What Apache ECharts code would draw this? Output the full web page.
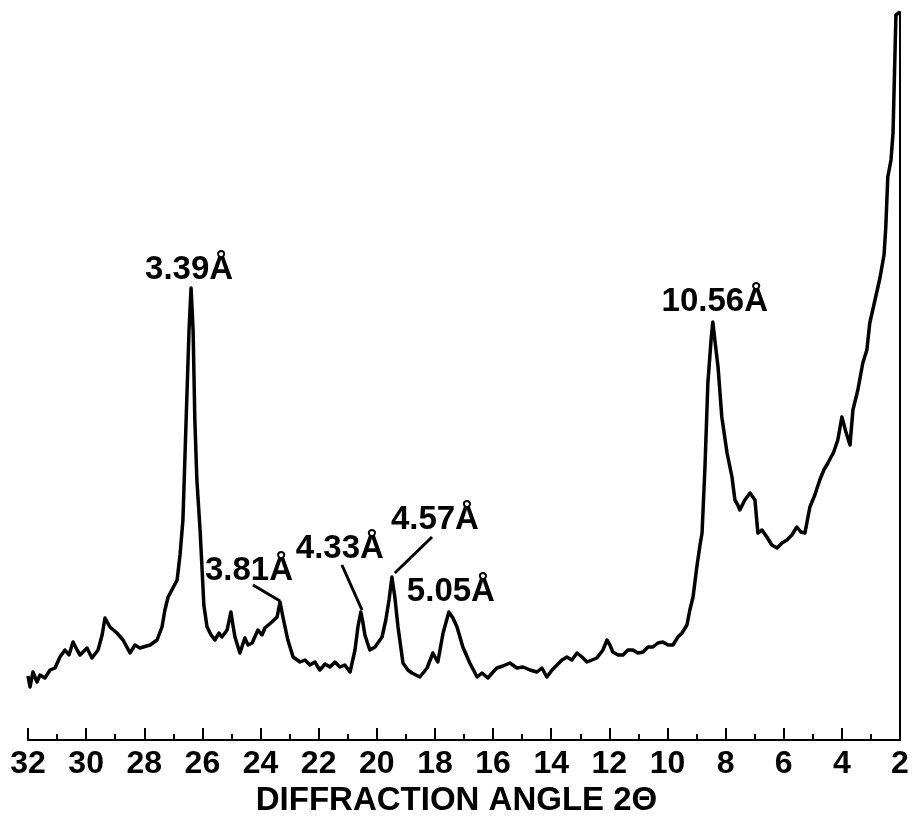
<!DOCTYPE html>
<html>
<head>
<meta charset="utf-8">
<script src="https://cdn.jsdelivr.net/npm/echarts@6/dist/echarts.min.js"></script>
<style>
html,body{margin:0;padding:0;background:#fff;}
#chart{width:913px;height:823px;}
</style>
</head>
<body>
<div id="chart"></div>
<script>
// Diffraction angle 2θ (degrees)
const twoTheta = [
32.00,31.93,31.83,31.69,31.59,31.42,31.24,31.07,30.90,30.73,
30.59,30.45,30.31,30.21,29.97,29.80,29.59,29.45,29.35,29.18,
28.94,28.73,28.49,28.32,28.15,27.80,27.56,27.39,27.29,27.18,
27.05,26.87,26.77,26.67,26.56,26.46,26.39,26.32,26.26,26.19,
26.08,26.01,25.95,25.84,25.70,25.57,25.43,25.33,25.15,25.02,
24.95,24.88,24.71,24.54,24.43,24.29,24.09,23.95,23.85,23.61,
23.43,23.33,23.23,23.06,22.88,22.64,22.47,22.30,22.13,21.96,
21.78,21.61,21.44,21.27,21.10,20.92,20.75,20.65,20.55,20.48,
20.41,20.24,20.06,19.82,19.69,19.58,19.48,19.38,19.27,19.10,
18.93,18.79,18.52,18.27,18.07,17.90,17.72,17.52,17.38,17.24,
17.04,16.80,16.55,16.38,16.18,16.00,15.87,15.66,15.42,15.18,
14.97,14.73,14.49,14.32,14.15,13.97,13.80,13.63,13.46,13.29,
13.11,12.94,12.77,12.60,12.43,12.22,12.08,11.98,11.88,11.70,
11.53,11.36,11.19,11.02,10.84,10.67,10.50,10.33,10.16,9.98,
9.81,9.64,9.50,9.33,9.23,9.12,8.99,8.88,8.81,8.71,
8.61,8.50,8.44,8.37,8.26,8.13,7.95,7.78,7.68,7.58,
7.51,7.34,7.16,6.99,6.89,6.75,6.58,6.41,6.23,6.06,
5.89,5.72,5.55,5.41,5.27,5.10,4.93,4.76,4.62,4.48,
4.28,4.14,4.00,3.86,3.72,3.62,3.45,3.28,3.14,3.04,
2.86,2.69,2.55,2.49,2.42,2.31,2.24,2.17,2.14,2.00
];
// Relative intensity (arbitrary units)
const intensity = [
64,53,68,58,65,62,70,72,83,90,
85,98,90,85,92,82,90,105,122,113,
107,100,87,95,92,95,100,113,130,143,
150,160,185,220,320,410,452,410,320,260,
210,170,135,113,105,100,107,103,110,128,
115,103,87,102,95,97,110,105,112,118,
123,138,123,100,83,78,80,75,78,70,
76,73,78,73,75,68,90,113,128,118,
105,90,93,103,120,140,163,143,113,77,
70,67,63,72,87,78,107,128,122,113,
93,77,63,67,62,68,72,74,77,72,
73,70,68,72,63,70,75,80,83,80,
87,83,78,80,82,90,100,95,88,85,
85,90,90,87,88,93,93,97,98,95,
95,103,107,115,130,143,173,195,207,273,
357,400,418,400,373,323,287,263,240,235,
230,240,247,240,207,210,203,195,192,197,
200,205,213,208,207,233,245,260,270,277,
288,300,323,308,295,330,350,377,390,417,
440,462,485,512,563,580,607,690,725,728
];
// Peak annotations (d-spacings)
const peakLabels = ['3.39Å','3.81Å','4.33Å','4.57Å','5.05Å','10.56Å'];
const peakTheta = [26.39, 23.33, 20.55, 19.48, 17.52, 8.44];
const peakIntensity = [452, 138, 128, 163, 128, 418];
// Leader lines: [start 2θ, start I, end 2θ, end I]
const leaderFromTheta = [24.26, 21.20, 18.10];
const leaderFromI = [155, 175, 203];
const leaderToTheta = [23.33, 20.51, 19.38];
const leaderToI = [139, 130, 167];
// Axis tick values
const axisMin = 2, axisMax = 32, axisStep = 2;
const axisTitle = 'DIFFRACTION ANGLE 2Θ';

const labelOffsets = [[-2,-18],[-31,-31],[-21,-63],[43,-57],[2,-20],[2,-20]];

const FONT = "'Liberation Sans', Arial, sans-serif";
const chart = echarts.init(document.getElementById('chart'), null, {renderer:'canvas'});

const lineData = twoTheta.map((t,i)=>[t, intensity[i]]);
const markPts = peakLabels.map((lab,i)=>({
  name: lab,
  coord: [peakTheta[i], peakIntensity[i]],
  label: {offset: labelOffsets[i]}
}));
const leaders = leaderFromTheta.map((t,i)=>[
  {coord:[t, leaderFromI[i]]},
  {coord:[leaderToTheta[i], leaderToI[i]]}
]);

chart.setOption({
  animation: false,
  backgroundColor: '#fff',
  title: {
    text: axisTitle,
    left: 'center',
    top: 784,
    padding: 0,
    textStyle: {fontFamily: FONT, fontWeight: 'bold', fontSize: 33, color: '#000'}
  },
  grid: {left: 28, right: 13, top: 12, bottom: 83, containLabel: false},
  xAxis: {
    type: 'value',
    inverse: true,
    min: axisMin,
    max: axisMax,
    interval: axisStep,
    axisLine: {show: true, onZero: false, lineStyle: {color: '#000', width: 2}},
    axisTick: {show: true, inside: true, length: 12, lineStyle: {color: '#000', width: 2}},
    minorTick: {show: true, splitNumber: 2, length: 6, lineStyle: {color: '#000', width: 2}},
    splitLine: {show: false},
    axisLabel: {
      show: true, margin: 8, showMinLabel: true, showMaxLabel: true,
      fontFamily: FONT, fontWeight: 'bold', fontSize: 32, color: '#000'
    }
  },
  yAxis: {
    type: 'value',
    position: 'right',
    min: 0,
    max: 728,
    axisLine: {show: true, lineStyle: {color: '#000', width: 2}},
    axisTick: {show: false},
    axisLabel: {show: false},
    splitLine: {show: false}
  },
  series: [{
    type: 'line',
    data: lineData,
    symbol: 'none',
    smooth: false,
    clip: false,
    lineStyle: {color: '#000', width: 3.5, join: 'round'},
    markPoint: {
      symbol: 'circle',
      symbolSize: 1,
      silent: true,
      itemStyle: {color: 'rgba(0,0,0,0)'},
      label: {
        show: true, position: 'inside', formatter: '{b}',
        fontFamily: FONT, fontWeight: 'bold', fontSize: 33, color: '#000'
      },
      data: markPts
    },
    markLine: {
      silent: true,
      symbol: ['none','none'],
      label: {show: false},
      lineStyle: {color: '#000', width: 3, type: 'solid'},
      data: leaders
    }
  }]
});
</script>
</body>
</html>
